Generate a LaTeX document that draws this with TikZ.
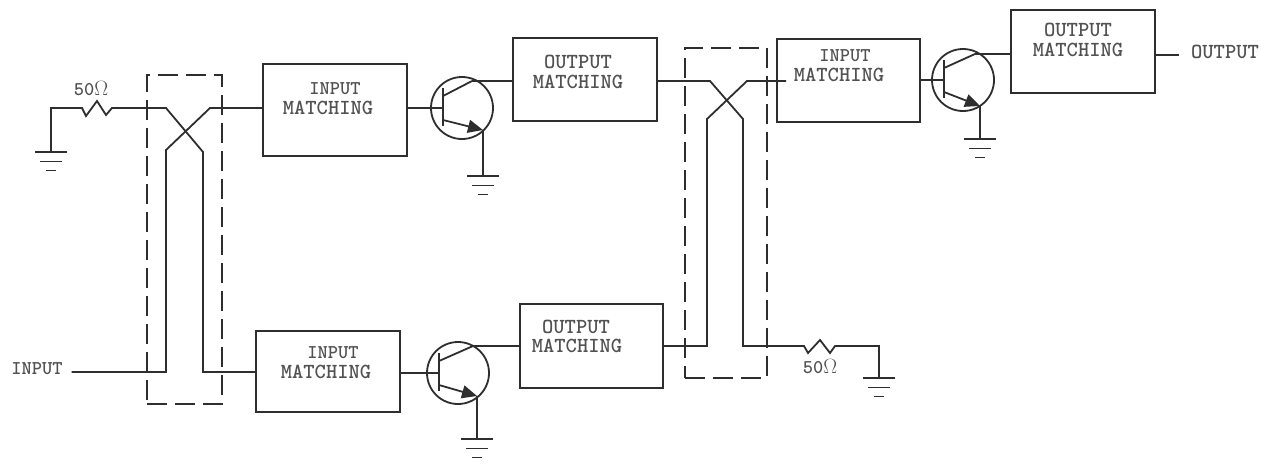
\documentclass[tikz,border=0pt]{standalone}
\usetikzlibrary{arrows.meta}
\colorlet{ink}{black!82}
\colorlet{txt}{black!68}
\tikzset{
  wire/.style={draw=ink,line width=1.8pt,line join=miter},
  mbox/.style={draw=ink,line width=1.8pt,rectangle,inner sep=0pt,outer sep=0pt,anchor=north west},
  coupler/.style={draw=ink,line width=1.8pt,rectangle,inner sep=0pt,outer sep=0pt,anchor=north west,dash pattern=on 20pt off 8pt},
  lab/.style={inner sep=0pt,outer sep=0pt,text=txt,font=\ttfamily\bfseries\fontsize{21.5}{21.5}\selectfont},
  labsm/.style={lab,font=\ttfamily\bfseries\fontsize{19.5}{19.5}\selectfont},
  bjtbody/.style={draw=ink,line width=1.8pt,circle,inner sep=0pt,outer sep=0pt,minimum size=62pt},
  emit/.style={draw=ink,line width=1.8pt,-{Triangle[length=15pt,width=13pt]}}
}
% name, x, y, w, h
\newcommand{\mblock}[5]{\node[mbox,minimum width=#4pt,minimum height=#5pt] (#1) at (#2,#3) {};}
% name, cx, cy, collector dx, dy, emitter dx, dy
\newcommand{\qbjt}[7]{%
  \node[bjtbody] (#1) at (#2,#3) {};
  \coordinate (#1-b) at (#2-19,#3);
  \coordinate (#1-c) at (#2+#4,#3+#5);
  \coordinate (#1-e) at (#2+#6,#3+#7);
  \draw[wire] (#2-19,#3-20) -- (#2-19,#3+18);
  \draw[wire] (#2-19,#3-12) -- (#1-c);
  \draw[emit] (#2-19,#3+12) -- (#1-e);
}
% ground at coordinate
\newcommand{\qgnd}[3]{%
  \coordinate (#1) at (#2,#3);
  \draw[wire] (#2-16,#3) -- (#2+16,#3);
  \draw[wire] (#2-11,#3+9.5) -- (#2+11,#3+9.5);
  \draw[wire] (#2-5,#3+18.5) -- (#2+5,#3+18.5);
}
\begin{document}
\begin{tikzpicture}[x=1pt,y=-1pt]
\useasboundingbox (0,0) rectangle (1281,464);
% couplers
\node[coupler,minimum width=75pt,minimum height=329pt] (cplA) at (147,75) {};
\node[coupler,minimum width=82pt,minimum height=330pt] (cplB) at (685,48) {};
% blocks
\mblock{inA}{263}{64}{144}{92}
\mblock{inB}{256}{331}{144}{81}
\mblock{outA}{513}{38}{144}{83}
\mblock{outB}{520}{304}{143}{84}
\mblock{inC}{777}{39}{143}{83}
\mblock{outC}{1011}{10}{144}{83}
% block texts
\node[labsm] (tInA) at (335,89) {INPUT};
\node[lab] (tInAb) at (328,108) {MATCHING};
\node[labsm] (tInB) at (333,353) {INPUT};
\node[lab] (tInBb) at (326,372) {MATCHING};
\node[lab] (tOutA) at (578,62) {OUTPUT};
\node[lab] (tOutAb) at (578,82) {MATCHING};
\node[lab] (tOutB) at (576,327) {OUTPUT};
\node[lab] (tOutBb) at (577,346) {MATCHING};
\node[labsm] (tInC) at (845,56) {INPUT};
\node[lab] (tInCb) at (839,75) {MATCHING};
\node[lab] (tOutC) at (1078,30) {OUTPUT};
\node[lab] (tOutCb) at (1078,50) {MATCHING};
% terminals
\node[labsm] (inputT) at (37,369) {INPUT};
\node[lab] (outputT) at (1225,52) {OUTPUT};
\node[labsm] (rA) at (91,89) {50$\Omega$};
\node[labsm] (rB) at (820,367) {50$\Omega$};
% transistors
\qbjt{qA}{462}{108}{10}{-27}{21}{22}
\qbjt{qB}{458}{373}{15}{-27}{19}{23}
\qbjt{qC}{963}{80}{12}{-26}{17}{26}
% grounds
\qgnd{gndR}{51}{152}
\qgnd{gndA}{483}{176}
\qgnd{gndB}{477}{439}
\qgnd{gndC}{980}{139}
\qgnd{gndS}{879}{378}
% transistor connections
\draw[wire] (inA.east |- qA-b) -- (qA-b);
\draw[wire] (inB.east |- qB-b) -- (qB-b);
\draw[wire] (inC.east |- qC-b) -- (qC-b);
\draw[wire] (qA-c) -- (outA.west |- qA-c);
\draw[wire] (qB-c) -- (outB.west |- qB-c);
\draw[wire] (qC-c) -- (outC.west |- qC-c);
\draw[wire] (qA-e) -- (gndA);
\draw[wire] (qB-e) -- (gndB);
\draw[wire] (qC-e) -- (gndC);
% first coupler with termination
\draw[wire] (gndR) -- (51,108) -- (82,108) -- (86,116) -- (97,101) -- (106,115) -- (112,108)
  -- (166,108) -- (203,152) -- (203,372) -- (inB.west |- 0,372);
\draw[wire] (inputT.east |- 0,372) ++(9,0) -- (166,372) -- (166,150) -- (210,108) -- (inA.west |- 0,108);
% second coupler with termination
\draw[wire] (outA.east |- 0,81) -- (710,81) -- (743,119) -- (743,346) -- (804,346)
  -- (808,353) -- (820,340) -- (830,353) -- (835,346) -- (879,346) -- (gndS);
\draw[wire] (outB.east |- 0,346) -- (707,346) -- (707,119) -- (747,81) -- (inC.west |- 0,81) -- ++(9,0);
% output
\draw[wire] (outC.east |- 0,55) -- (1179,55);
\end{tikzpicture}
\end{document}
